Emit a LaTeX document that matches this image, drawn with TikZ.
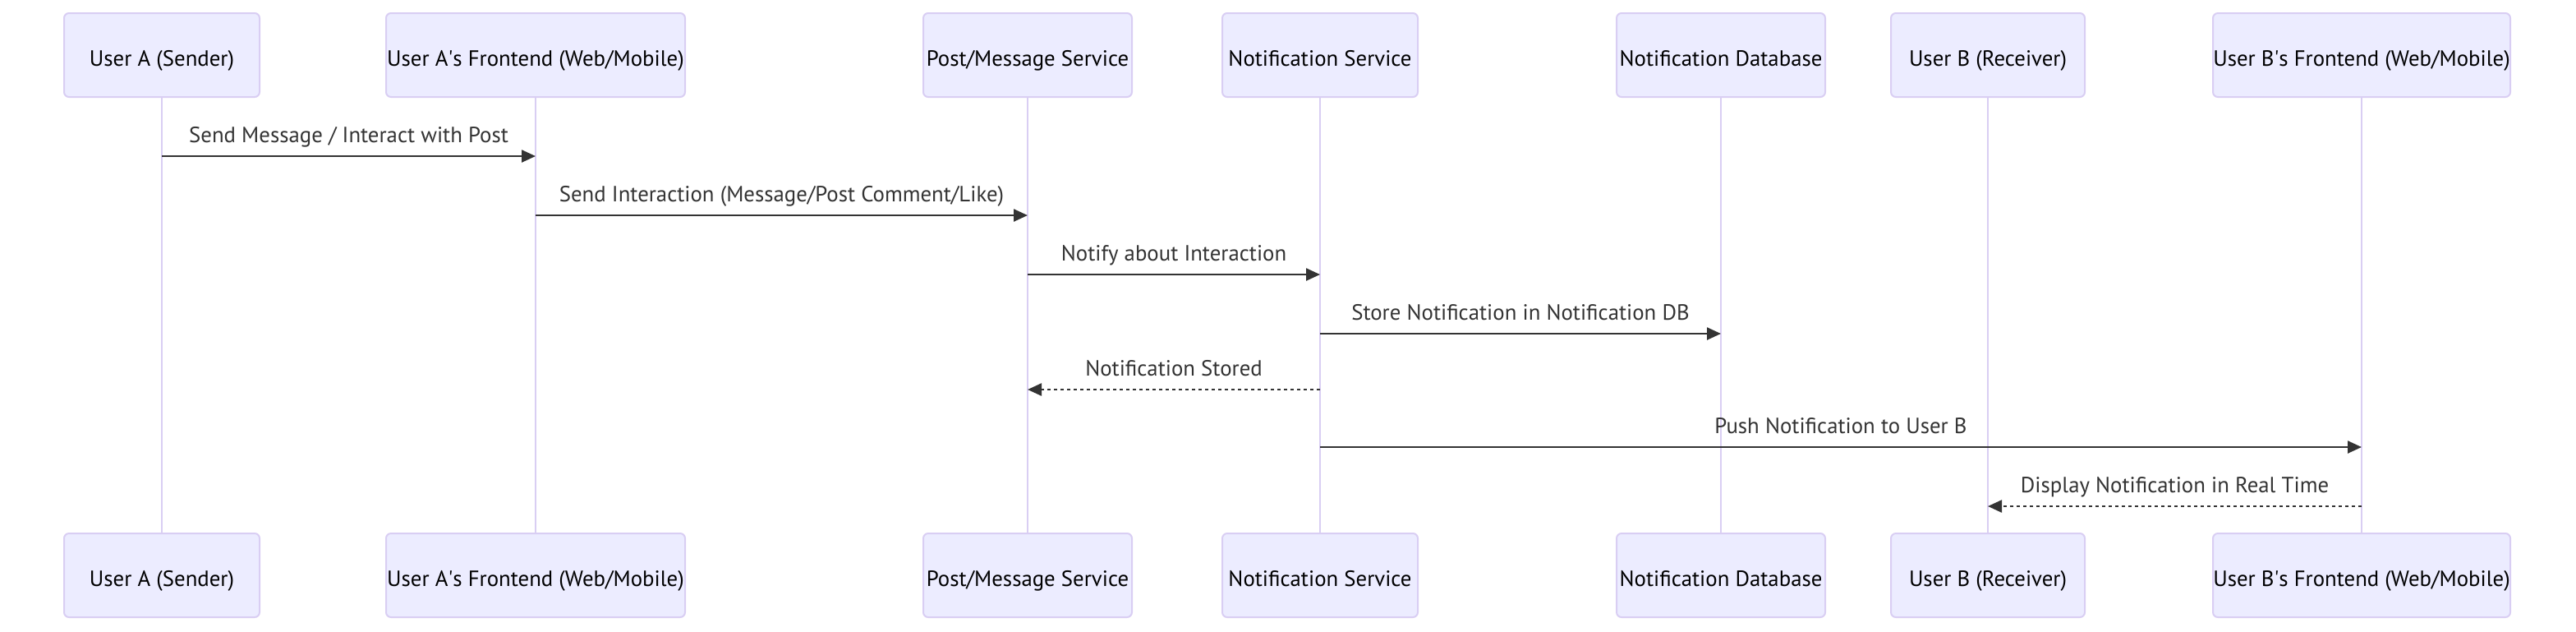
\documentclass[tikz,border=0pt]{standalone}
\usepackage{fontspec}
\setmainfont{PT Sans}
\usetikzlibrary{arrows.meta}
\definecolor{actorfill}{HTML}{ECECFF}
\definecolor{actorline}{HTML}{D9CEF3}
\definecolor{msgcolor}{HTML}{333333}

\begin{document}
\begin{tikzpicture}[x=1pt, y=-1pt,
  actor/.style = {draw=actorline, fill=actorfill, rounded corners=3pt, line width=1pt, minimum height=51pt, inner sep=0pt, text height=13pt, text depth=0pt, font=\fontsize{13.4}{15}\selectfont},
  life/.style = {draw=actorline, line width=1.2pt},
  msg/.style = {draw=msgcolor, line width=1.2pt, -{Triangle[length=8.5pt, width=7.5pt]}},
  reply/.style = {msg, dash pattern=on 2pt off 2pt},
  lbl/.style = {midway, anchor=base, yshift=8.5pt, inner sep=0pt, text=msgcolor, font=\fontsize{13.4}{15}\selectfont}]
\useasboundingbox (0,0) rectangle (1568,384);
% actors, top row
\node[actor, minimum width=119pt] (ua) at (98.5,33.5) {User A (Sender)};
\node[actor, minimum width=182pt] (uaf) at (326,33.5) {User A\textquotesingle s Frontend (Web/Mobile)};
\node[actor, minimum width=127pt] (pms) at (625.5,33.5) {Post/Message Service};
\node[actor, minimum width=119pt] (ns) at (803.5,33.5) {Notification Service};
\node[actor, minimum width=127pt] (ndb) at (1047.5,33.5) {Notification Database};
\node[actor, minimum width=118pt] (ub) at (1210,33.5) {User B (Receiver)};
\node[actor, minimum width=181pt] (ubf) at (1437.5,33.5) {User B\textquotesingle s Frontend (Web/Mobile)};
% actors, bottom row
\node[actor, minimum width=119pt] (ua2) at (98.5,350) {User A (Sender)};
\node[actor, minimum width=182pt] (uaf2) at (326,350) {User A\textquotesingle s Frontend (Web/Mobile)};
\node[actor, minimum width=127pt] (pms2) at (625.5,350) {Post/Message Service};
\node[actor, minimum width=119pt] (ns2) at (803.5,350) {Notification Service};
\node[actor, minimum width=127pt] (ndb2) at (1047.5,350) {Notification Database};
\node[actor, minimum width=118pt] (ub2) at (1210,350) {User B (Receiver)};
\node[actor, minimum width=181pt] (ubf2) at (1437.5,350) {User B\textquotesingle s Frontend (Web/Mobile)};
% lifelines
\draw[life] (ua) -- (ua2);
\draw[life] (uaf) -- (uaf2);
\draw[life] (pms) -- (pms2);
\draw[life] (ns) -- (ns2);
\draw[life] (ndb) -- (ndb2);
\draw[life] (ub) -- (ub2);
\draw[life] (ubf) -- (ubf2);
% message rows
\coordinate (m1) at (0,95);
\coordinate (m2) at (0,131);
\coordinate (m3) at (0,167);
\coordinate (m4) at (0,203);
\coordinate (m5) at (0,237);
\coordinate (m6) at (0,272);
\coordinate (m7) at (0,308);
\draw[msg] (ua |- m1) -- node[lbl] {Send Message / Interact with Post} (uaf |- m1);
\draw[msg] (uaf |- m2) -- node[lbl] {Send Interaction (Message/Post Comment/Like)} (pms |- m2);
\draw[msg] (pms |- m3) -- node[lbl] {Notify about Interaction} (ns |- m3);
\draw[msg] (ns |- m4) -- node[lbl] {Store Notification in Notification DB} (ndb |- m4);
\draw[reply] (ns |- m5) -- node[lbl] {Notification Stored} (pms |- m5);
\draw[msg] (ns |- m6) -- node[lbl] {Push Notification to User B} (ubf |- m6);
\draw[reply] (ubf |- m7) -- node[lbl] {Display Notification in Real Time} (ub |- m7);
\end{tikzpicture}
\end{document}
